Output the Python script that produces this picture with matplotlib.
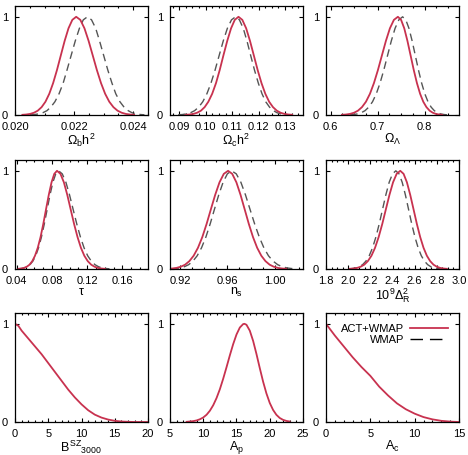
import numpy as np
import matplotlib.pyplot as plt
from matplotlib.lines import Line2D
from matplotlib.ticker import AutoMinorLocator, MultipleLocator

plt.rcParams['font.family'] = ['Liberation Sans', 'DejaVu Sans']
plt.rcParams['mathtext.fontset'] = 'custom'
plt.rcParams['mathtext.rm'] = 'Liberation Sans'
plt.rcParams['mathtext.it'] = 'Liberation Sans'
plt.rcParams['mathtext.sf'] = 'Liberation Sans'

RED = '#c8324f'
GREY = '#555555'

# normalised likelihood heights (left tail -> peak -> right tail)
peak_y = [0.002, 0.005, 0.011, 0.023, 0.044, 0.08, 0.135, 0.216, 0.325, 0.458, 0.607, 0.755, 0.883, 0.969, 1.0,
          0.969, 0.883, 0.755, 0.607, 0.458, 0.325, 0.216, 0.135, 0.08, 0.044, 0.023, 0.011, 0.005, 0.002]

# Omega_b h^2
obh2_act_x = [0.02025, 0.02038, 0.02051, 0.02064, 0.02077, 0.0209, 0.02103, 0.02116, 0.02129, 0.02142, 0.02155, 0.02168, 0.02181, 0.02194, 0.02207,
              0.02221, 0.02235, 0.02249, 0.02263, 0.02277, 0.02291, 0.02305, 0.02319, 0.02333, 0.02347, 0.02361, 0.02375, 0.02389, 0.02403]
obh2_wmap_x = [0.02052, 0.02066, 0.0208, 0.02094, 0.02108, 0.02121, 0.02135, 0.02149, 0.02163, 0.02176, 0.0219, 0.02204, 0.02218, 0.02231, 0.02245,
               0.02259, 0.02273, 0.02286, 0.023, 0.02314, 0.02328, 0.02341, 0.02355, 0.02369, 0.02383, 0.02396, 0.0241, 0.02424, 0.02438]

# Omega_c h^2
och2_act_x = [0.0924, 0.09385, 0.0953, 0.09675, 0.0982, 0.0996, 0.101, 0.10245, 0.1039, 0.1053, 0.1067, 0.10815, 0.1096, 0.111, 0.1124,
              0.11385, 0.1153, 0.11675, 0.1182, 0.11965, 0.1211, 0.12255, 0.124, 0.12545, 0.1269, 0.12835, 0.1298, 0.13125, 0.1327]
och2_wmap_x = [0.0896, 0.09115, 0.0927, 0.09425, 0.0958, 0.09735, 0.0989, 0.10045, 0.102, 0.10355, 0.1051, 0.10665, 0.1082, 0.10975, 0.1113,
               0.11275, 0.1142, 0.1156, 0.117, 0.11845, 0.1199, 0.1213, 0.1227, 0.12415, 0.1256, 0.127, 0.1284, 0.12985, 0.1313]

# Omega_Lambda
ol_act_x = [0.624, 0.6325, 0.641, 0.6495, 0.658, 0.6665, 0.675, 0.6835, 0.692, 0.7005, 0.709, 0.7175, 0.726, 0.7345, 0.743,
            0.74975, 0.7565, 0.76325, 0.770, 0.77675, 0.7835, 0.79025, 0.797, 0.80375, 0.8105, 0.81725, 0.824, 0.83075, 0.8375]
ol_wmap_x = [0.641, 0.649, 0.657, 0.665, 0.673, 0.681, 0.689, 0.697, 0.705, 0.713, 0.721, 0.729, 0.737, 0.745, 0.753,
             0.75975, 0.7665, 0.77325, 0.780, 0.78675, 0.7935, 0.80025, 0.807, 0.81375, 0.8205, 0.82725, 0.834, 0.84075, 0.8475]

# tau
tau_act_x = [0.042, 0.0451, 0.0482, 0.05135, 0.0545, 0.0576, 0.0607, 0.06385, 0.067, 0.0701, 0.0732, 0.07635, 0.0795, 0.0826, 0.0857,
             0.0896, 0.0935, 0.09735, 0.1012, 0.1051, 0.109, 0.11285, 0.1167, 0.1206, 0.1245, 0.12835, 0.1322, 0.1361, 0.14]
tau_wmap_x = [0.042, 0.04525, 0.0485, 0.05175, 0.055, 0.05825, 0.0615, 0.06475, 0.068, 0.07125, 0.0745, 0.07775, 0.081, 0.08425, 0.0875,
              0.09165, 0.0958, 0.0999, 0.104, 0.10815, 0.1123, 0.1164, 0.1205, 0.12465, 0.1288, 0.1329, 0.137, 0.14115, 0.1453]

# n_s
ns_act_x = [0.9098, 0.9134, 0.917, 0.92065, 0.9243, 0.9279, 0.9315, 0.93515, 0.9388, 0.9424, 0.946, 0.94965, 0.9533, 0.9569, 0.9605,
            0.964, 0.9675, 0.971, 0.9745, 0.978, 0.9815, 0.985, 0.9885, 0.992, 0.9955, 0.999, 1.0025, 1.006, 1.0095]
ns_wmap_x = [0.9128, 0.9164, 0.92, 0.92365, 0.9273, 0.9309, 0.9345, 0.93815, 0.9418, 0.9454, 0.949, 0.95265, 0.9563, 0.9599, 0.9635,
             0.9674, 0.9713, 0.97515, 0.979, 0.9829, 0.9868, 0.99065, 0.9945, 0.9984, 1.0023, 1.00615, 1.01, 1.0139, 1.0178]

# 10^9 Delta_R^2
dr_act_x = [2.015, 2.0475, 2.08, 2.1125, 2.145, 2.1775, 2.21, 2.2425, 2.275, 2.3075, 2.34, 2.3725, 2.405, 2.4375, 2.47,
            2.5, 2.53, 2.56, 2.59, 2.62, 2.65, 2.68, 2.71, 2.74, 2.77, 2.8, 2.83, 2.86, 2.89]
dr_wmap_x = [2.01, 2.04, 2.07, 2.1, 2.13, 2.16, 2.19, 2.22, 2.25, 2.28, 2.31, 2.34, 2.37, 2.4, 2.43,
             2.45875, 2.4875, 2.51625, 2.545, 2.57375, 2.6025, 2.63125, 2.66, 2.68875, 2.7175, 2.74625, 2.775, 2.80375, 2.8325]

# B^SZ_3000 (ACT+WMAP only)
bsz_x = [0, 0.5, 1, 1.5, 2, 3, 4, 5, 6, 7, 8, 9, 10, 11, 12, 13, 14, 15, 16, 17, 18, 20]
bsz_y = [1.0, 0.98, 0.93, 0.89, 0.85, 0.77, 0.69, 0.6, 0.51, 0.42, 0.33, 0.25, 0.18, 0.12, 0.075, 0.045, 0.025, 0.012, 0.005, 0.002, 0.0, 0.0]

# A_p
ap_x = [7.5, 8, 8.5, 9, 9.5, 10, 10.5, 11, 11.5, 12, 12.5, 13, 13.5, 14, 14.5, 15, 15.5, 16, 16.2,
        16.5, 17, 17.5, 18, 18.5, 19, 19.5, 20, 20.5, 21, 21.5, 22, 22.5, 23]
ap_y = [0.002, 0.005, 0.009, 0.016, 0.028, 0.046, 0.074, 0.115, 0.171, 0.244, 0.334, 0.441, 0.558, 0.679, 0.793, 0.891, 0.962, 0.997, 1.0,
        0.99, 0.93, 0.826, 0.693, 0.549, 0.411, 0.291, 0.194, 0.123, 0.073, 0.041, 0.022, 0.011, 0.005]

# A_c
ac_x = [0, 1, 2, 3, 4, 5, 6, 7, 8, 9, 10, 11, 12, 13, 14, 15]
ac_y = [1.0, 0.88, 0.77, 0.66, 0.56, 0.47, 0.36, 0.27, 0.19, 0.13, 0.085, 0.05, 0.027, 0.012, 0.004, 0.0]

labels = [r'$\Omega_b h^2$', r'$\Omega_c h^2$', r'$\Omega_\Lambda$',
          r'$\tau$', r'$n_s$', r'$10^9\Delta_R^2$',
          r'$B^{SZ}{}_{3000}$', r'$A_p$', r'$A_c$']

xlims = [(0.020, 0.0245), (0.0865, 0.1368), (0.59, 0.873),
         (0.038, 0.189), (0.9116, 1.0236), (1.8, 3.0),
         (0, 20), (5, 25), (0, 15)]
majors = [0.002, 0.01, 0.1, 0.04, 0.04, 0.2, 5, 5, 5]
fmts = ['%.3f', '%.2f', '%.1f', '%.2f', '%.2f', '%.1f', '%d', '%d', '%d']

pairs = [(obh2_act_x, obh2_wmap_x), (och2_act_x, och2_wmap_x), (ol_act_x, ol_wmap_x),
         (tau_act_x, tau_wmap_x), (ns_act_x, ns_wmap_x), (dr_act_x, dr_wmap_x)]
singles = [(bsz_x, bsz_y), (ap_x, ap_y), (ac_x, ac_y)]

fig = plt.figure(figsize=(4.68, 4.55), dpi=100)
W, H = 468.0, 455.0
lefts = [15, 170, 326]
tops = [6, 160, 313]
aw, ah = 133, 109

for i in range(9):
    r, c = divmod(i, 3)
    ax = fig.add_axes([lefts[c] / W, 1 - (tops[r] + ah) / H, aw / W, ah / H])
    if i < 6:
        ax.plot(pairs[i][1], peak_y, color=GREY, lw=1.0, dashes=(5.5, 3.5))
        ax.plot(pairs[i][0], peak_y, color=RED, lw=1.3)
    else:
        ax.plot(singles[i - 6][0], singles[i - 6][1], color=RED, lw=1.3)
    ax.set_xlim(*xlims[i])
    ax.set_ylim(0, 1.11)
    ax.set_yticks([0, 1])
    ax.set_yticklabels(['0', '1'])
    ax.xaxis.set_major_locator(MultipleLocator(majors[i]))
    ax.xaxis.set_minor_locator(AutoMinorLocator(5 if i >= 6 else 4))
    ax.xaxis.set_major_formatter(plt.FormatStrFormatter(fmts[i]))
    ax.tick_params(which='both', direction='in', top=True, right=True, width=0.8)
    ax.tick_params(which='major', length=3, labelsize=8, pad=5)
    ax.tick_params(which='minor', length=1.5)
    for s in ax.spines.values():
        s.set_linewidth(0.9)
    ax.set_xlabel(labels[i], fontsize=9, labelpad=0)
    if i == 8:
        handles = [Line2D([], [], color=RED, lw=1.3),
                   Line2D([], [], color='black', lw=1.0, dashes=(9, 5))]
        ax.legend(handles, ['ACT+WMAP', 'WMAP'], loc='upper right', frameon=False,
                  markerfirst=False, fontsize=8, handlelength=3.4, handletextpad=0.5,
                  labelspacing=0.1, borderaxespad=0.6)

fig.savefig('out.png', dpi=100)
